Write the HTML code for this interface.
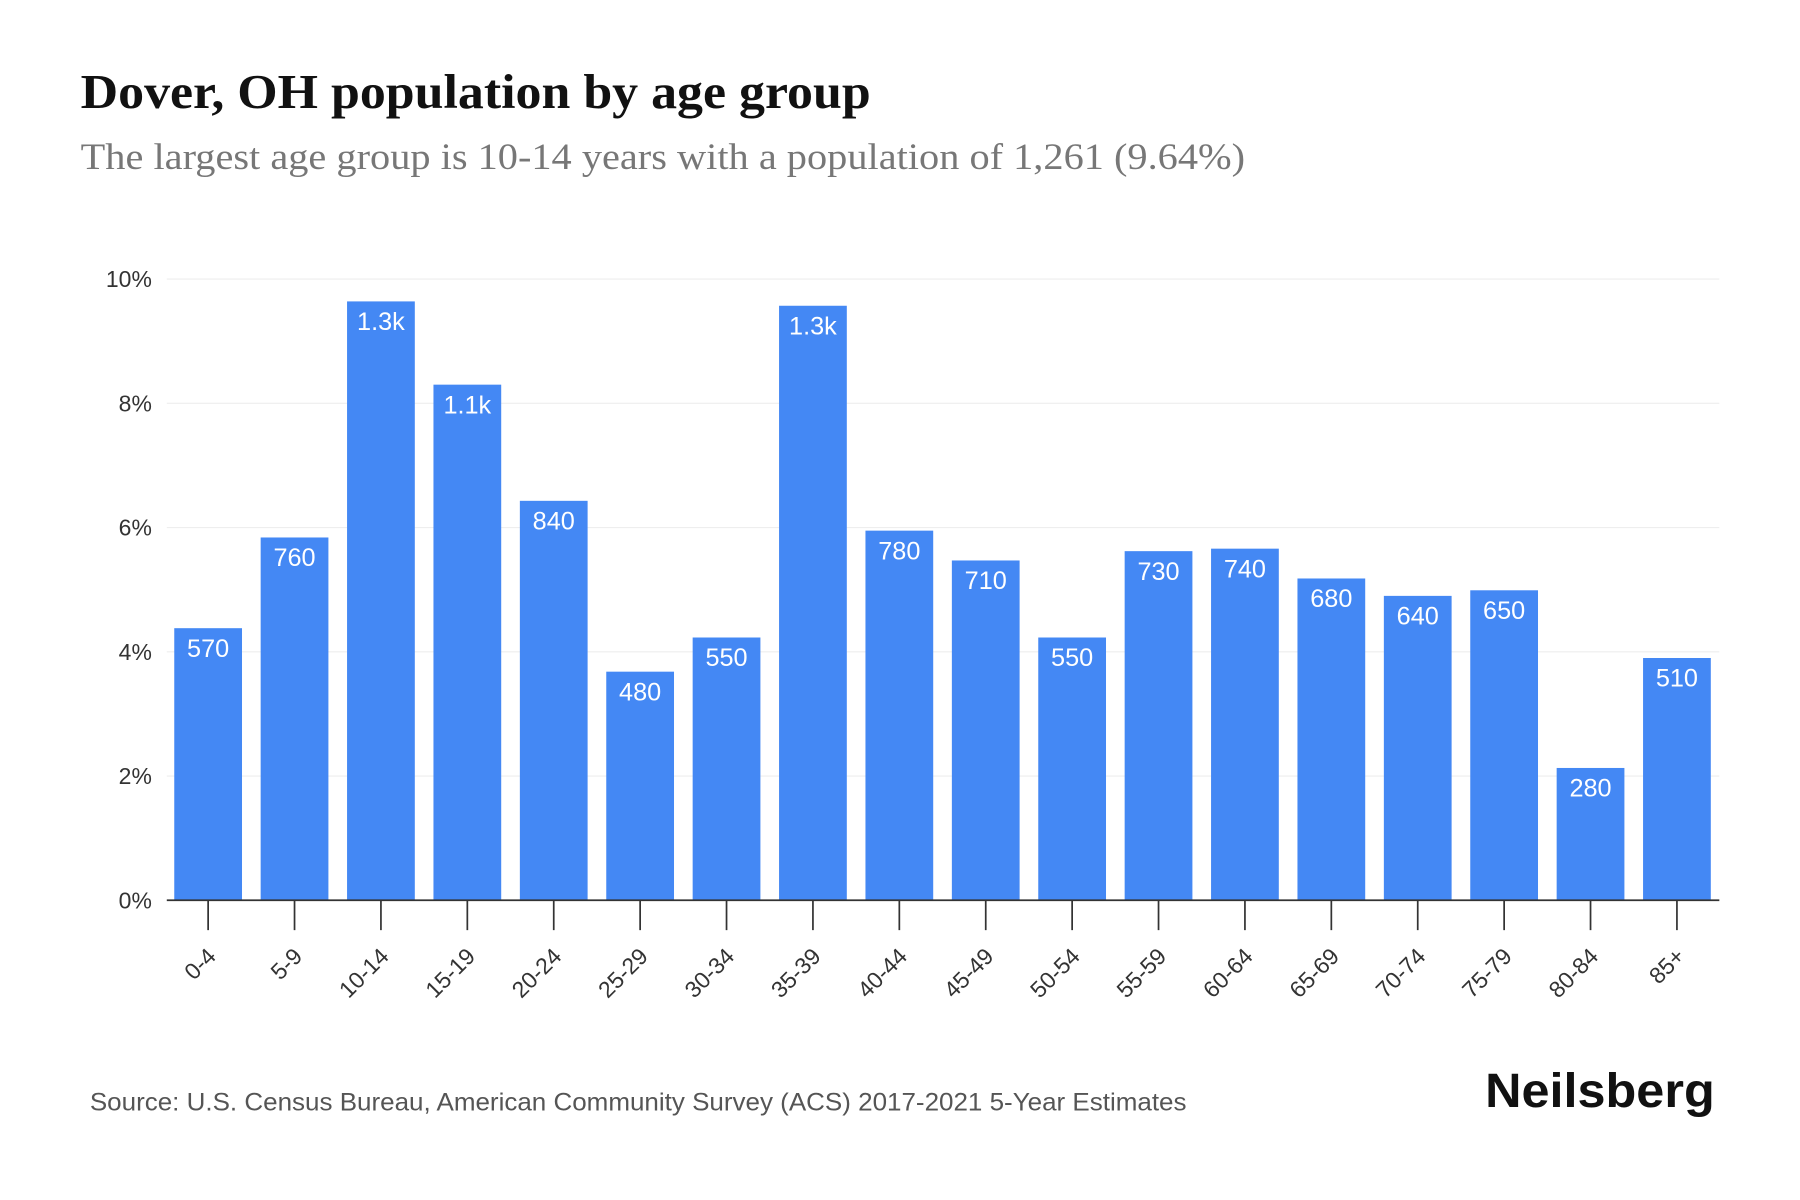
<!DOCTYPE html>
<html><head><meta charset="utf-8"><style>
html,body{margin:0;padding:0;background:#fff;width:1800px;height:1200px;overflow:hidden}
svg{display:block}
</style></head><body>
<svg id="chart" width="1800" height="1200" viewBox="0 0 1567 1045" xmlns="http://www.w3.org/2000/svg">
<text x="70" y="94" textLength="688" lengthAdjust="spacingAndGlyphs" font-family="'Liberation Serif',serif" font-weight="bold" font-size="42" fill="#111">Dover, OH population by age group</text>
<text x="70" y="147" textLength="1014" lengthAdjust="spacingAndGlyphs" font-family="'Liberation Serif',serif" font-size="32" fill="#777">The largest age group is 10-14 years with a population of 1,261 (9.64%)</text>
<g id="grid"></g>
<g id="bars"></g>
<g id="xaxis"></g>
<text x="78" y="967" textLength="955" lengthAdjust="spacingAndGlyphs" font-family="'Liberation Sans',sans-serif" font-size="22" fill="#555">Source: U.S. Census Bureau, American Community Survey (ACS) 2017-2021 5-Year Estimates</text>
<text x="1293" y="964" textLength="200" lengthAdjust="spacingAndGlyphs" font-family="'Liberation Sans',sans-serif" font-weight="bold" font-size="42" fill="#111">Neilsberg</text>
</svg>
<script>
const categories=["0-4","5-9","10-14","15-19","20-24","25-29","30-34","35-39","40-44","45-49","50-54","55-59","60-64","65-69","70-74","75-79","80-84","85+"];
const percents=[4.38,5.84,9.64,8.30,6.43,3.68,4.23,9.57,5.95,5.47,4.23,5.62,5.66,5.18,4.90,4.99,2.13,3.90];
const valueLabels=["570","760","1.3k","1.1k","840","480","550","1.3k","780","710","550","730","740","680","640","650","280","510"];
const yTicks=[0,2,4,6,8,10];
const NS="http://www.w3.org/2000/svg";
const y0=784,y1=243,x0=145,x1=1497,first=181,step=75.24,bw=59;
const y=v=>y0-(y0-y1)*v/10;
const x=i=>first+i*step;
function mk(t,a,p){const e=document.createElementNS(NS,t);for(const k in a)e.setAttribute(k,a[k]);p.appendChild(e);return e;}
const grid=document.getElementById('grid'),bars=document.getElementById('bars'),xa=document.getElementById('xaxis');
yTicks.forEach(t=>{
 const l=mk('line',{x1:x0,x2:x1,y1:y(t),y2:y(t),stroke:'#eee','stroke-width':1},grid);
 
 
 const tx=mk('text',{x:132,y:y(t)+7,'text-anchor':'end','font-family':"'Liberation Sans',sans-serif",'font-size':20,fill:'#333'},grid);
 tx.textContent=t+'%';
 
 
});
categories.forEach((c,i)=>{
 const r=mk('rect',{x:x(i)-bw/2,y:y(percents[i]),width:bw,height:y0-y(percents[i]),fill:'#4488f4'},bars);
 
 
 const v=mk('text',{x:x(i),y:y(percents[i])+25,'text-anchor':'middle','font-family':"'Liberation Sans',sans-serif",'font-size':22,fill:'#fff'},bars);
 v.textContent=valueLabels[i];
 
 
 const tk=mk('line',{x1:x(i),x2:x(i),y1:y0,y2:y0+26,stroke:'#333','stroke-width':1.5},xa);
 
 
 const lb=mk('text',{x:x(i)+8,y:y0+50,'text-anchor':'end','font-family':"'Liberation Sans',sans-serif",'font-size':20,fill:'#333',transform:`rotate(-45 ${x(i)+8} ${y0+50})`},xa);
 lb.textContent=c;
 
 
});
const ax=mk('line',{x1:x0,x2:x1,y1:y0,y2:y0,stroke:'#333','stroke-width':1.5},xa);


</script>
</body></html>
